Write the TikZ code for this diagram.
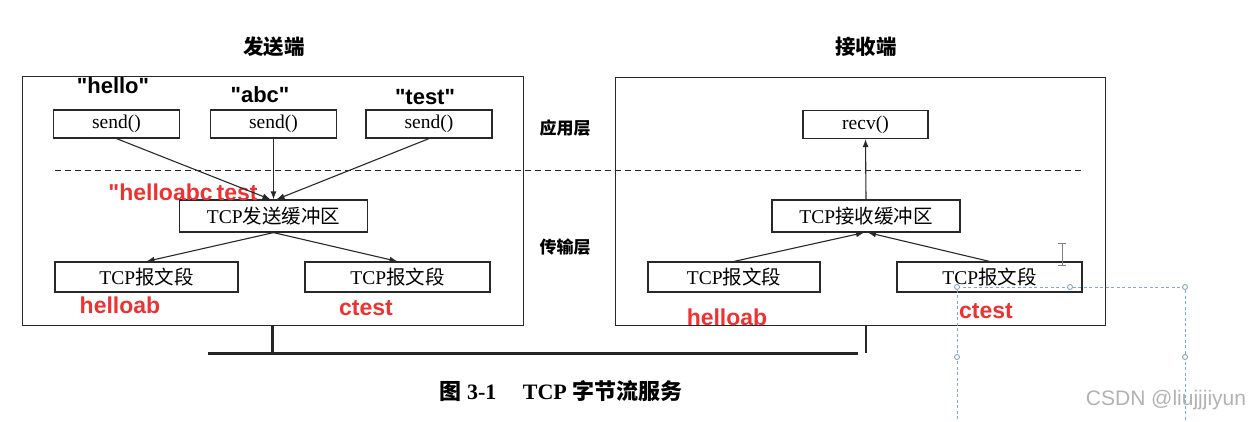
\documentclass[tikz,border=0pt]{standalone}
\usepackage{fontspec}
\setmainfont{Liberation Serif}
\newfontfamily\cjk{Noto Sans CJK SC}
\newfontfamily\arialfont{Liberation Sans}
\usetikzlibrary{arrows.meta}
\definecolor{inkgray}{RGB}{40,40,40}
\definecolor{notered}{RGB}{238,50,50}
\definecolor{selblue}{RGB}{120,170,225}
\newcommand{\zh}[1]{{\cjk #1}}

\begin{document}
\begin{tikzpicture}[x=1pt,y=-1pt,line width=1pt,
  box/.style={draw=inkgray,line width=1.2pt,inner sep=0pt,font=\fontsize{19.5}{21}\selectfont},
  smallbox/.style={box,minimum width=126pt,minimum height=28pt},
  bufbox/.style={box,minimum width=188pt,minimum height=32pt},
  segbox/.style={box,minimum height=30pt},
  frame/.style={draw=inkgray,line width=1pt,inner sep=0pt},
  arr/.style={draw=inkgray,line width=1.1pt,-{Latex[length=8pt,width=6pt]}},
  bus/.style={draw=black!85,line width=3pt},
  note/.style={font=\arialfont\bfseries\fontsize{22}{24}\selectfont},
  rednote/.style={note,font=\arialfont\bfseries\fontsize{23}{25}\selectfont,text=notered},
  layer/.style={font=\cjk\bfseries\fontsize{17}{19}\selectfont}]
  \useasboundingbox (0,0) rectangle (1257,421);

  % the two hosts
  \node[frame,minimum width=501pt,minimum height=249pt] (sender) at (272.5,200.5) {};
  \node[frame,minimum width=490pt,minimum height=248pt] (receiver) at (860,201) {};
  \node[layer,font=\cjk\bfseries\fontsize{20.5}{22}\selectfont] (stitle) at (274,47) {发送端};
  \node[layer,font=\cjk\bfseries\fontsize{20.5}{22}\selectfont] (rtitle) at (866,47) {接收端};
  \node[layer] (applayer) at (565,128) {应用层};
  \node[layer] (tplayer) at (565,247) {传输层};
  \draw[inkgray,line width=1pt,dash pattern=on 6pt off 4pt] (55,170) -- (1083,170);

  % sender side
  \node[smallbox] (send1) at (116.5,124) {send()};
  \node[smallbox] (send2) at (273.5,124) {send()};
  \node[smallbox] (send3) at (429,124) {send()};
  \node[note] (msg1) at (113,86) {"hello"};
  \node[note] (msg2) at (260,95) {"abc"};
  \node[note] (msg3) at (425,97) {"test"};
  \node[bufbox] (sbuf) at (273.5,216) {TCP\zh{发送缓冲区}};
  \node[rednote] (sstream) at (183,192) {"helloabc\kern4pt test};
  \node[segbox,minimum width=183pt] (sseg1) at (146.5,277) {TCP\zh{报文段}};
  \node[segbox,minimum width=185pt] (sseg2) at (397.5,277) {TCP\zh{报文段}};
  \node[rednote] (sdata1) at (120,305) {helloab};
  \node[rednote] (sdata2) at (366,308) {ctest};
  \draw[arr] (send1.south) -- ([xshift=-3pt]sbuf.north);
  \draw[arr] (send2.south) -- (sbuf.north);
  \draw[arr] (send3.south) -- ([xshift=3pt]sbuf.north);
  \draw[arr] (sbuf.south) -- (sseg1.north);
  \draw[arr] (sbuf.south) -- (sseg2.north);

  % receiver side
  \node[smallbox,minimum width=125pt] (recv) at (865.5,124.5) {recv()};
  \node[bufbox] (rbuf) at (866,216) {TCP\zh{接收缓冲区}};
  \node[segbox,minimum width=172pt] (rseg1) at (734,277) {TCP\zh{报文段}};
  \node[segbox,minimum width=185pt] (rseg2) at (989.5,277) {TCP\zh{报文段}};
  \node[rednote] (rdata1) at (727,317) {helloab};
  \node[rednote] (rdata2) at (986,311) {ctest};
  \draw[arr] (rseg1.north) -- ([xshift=-2pt]rbuf.south);
  \draw[arr] (rseg2.north) -- ([xshift=2pt]rbuf.south);
  \draw[arr] (rbuf.north) -- (recv.south);

  % network
  \coordinate (busL) at (208,353);
  \coordinate (busR) at (858,353);
  \draw[bus] (busL) -- (busR);
  \draw[bus,line width=2.5pt] (sender.south) -- (sender.south |- busL);
  \draw[bus,line width=2.5pt] (receiver.south -| rbuf) -- (rbuf |- busL);
  \node[font=\bfseries\fontsize{22}{24}\selectfont] (caption) at (561,391)
    {\zh{图} 3-1\hspace{1.2em}TCP \zh{字节流服务}};

  % screenshot overlay
  \draw[selblue,line width=1pt,dash pattern=on 3pt off 2.5pt] (957,430) -- (957,287) -- (1185,287) -- (1185,430);
  \foreach \hx/\hy in {957/287,1070/287,1185/287,957/357,1185/357}
    \draw[selblue!60!gray,line width=0.8pt,fill=white] (\hx,\hy) circle (2.5pt);
  \draw[gray,line width=0.8pt] (1058,243) -- (1066,243) (1062,243) -- (1062,265) (1058,265) -- (1066,265);
  \node[font=\arialfont\fontsize{21}{23}\selectfont,text=black!30] (mark) at (1166,400) {CSDN @liujjjiyun};
\end{tikzpicture}
\end{document}
